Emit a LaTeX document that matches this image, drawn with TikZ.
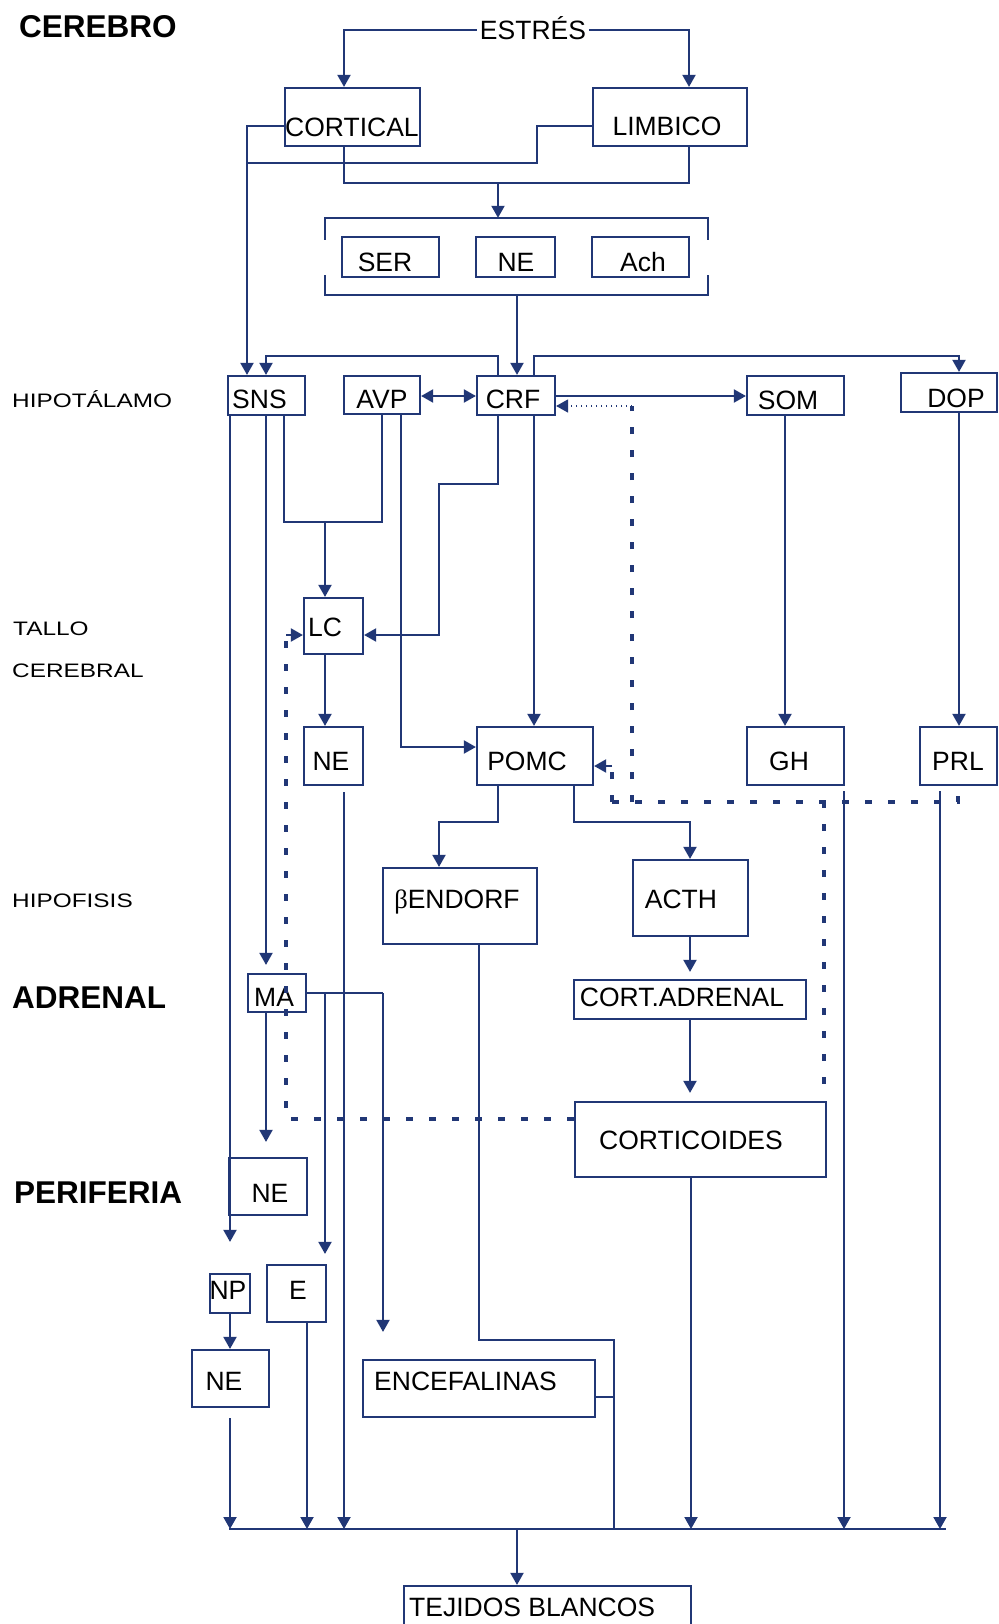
\documentclass[tikz,border=0pt]{standalone}
\usepackage{fontspec}
\setmainfont{Liberation Sans}
\newfontfamily\widefont[FakeStretch=1.25]{Liberation Sans}
\newfontfamily\grfont{Liberation Serif}
\usetikzlibrary{arrows.meta}
\definecolor{navy}{RGB}{33,55,118}
\newcommand\bx[5]{\node[box,minimum width={(#4-#2)*1pt},minimum height={(#5-#3)*1pt}] (#1) at ({(#2+#4)/2},{(#3+#5)/2}) {};}
\begin{document}
\begin{tikzpicture}[x=1pt,y=-1pt,
  ln/.style={draw=navy,line width=2pt},
  arr/.style={ln,-{Triangle[length=12pt,width=13pt]}},
  dblarr/.style={ln,{Triangle[length=12pt,width=13pt]}-{Triangle[length=12pt,width=13pt]}},
  box/.style={draw=navy,line width=2.2pt,rectangle,inner sep=0pt},
  txt/.style={font=\fontsize{26.5}{30}\selectfont,inner sep=0pt,text height=19pt,text depth=0pt},
  lab/.style={font=\widefont\fontsize{19.5}{22}\selectfont,anchor=west,inner sep=0pt,text height=14pt,text depth=0pt},
  blab/.style={font=\bfseries\fontsize{31.5}{34}\selectfont,anchor=west,inner sep=0pt,text height=22.5pt,text depth=0pt},
  dsh/.style={draw=navy,line width=3.5pt,dash pattern=on 7pt off 16pt},
  dotln/.style={draw=navy,line width=1.5pt,dash pattern=on 1.5pt off 3.5pt,-{Triangle[length=12pt,width=13pt]}},
]
\useasboundingbox (0,0) rectangle (998,1624);
\fill[white] (0,0) rectangle (998,1624);
\clip (0,0) rectangle (998,1624);

% left labels
\node[blab] (lcer) at (19,26) {CEREBRO};
\node[lab] (lhip) at (12,400) {HIPOTÁLAMO};
\node[lab] (ltal) at (13,628) {TALLO};
\node[lab] (lcb) at (12,670) {CEREBRAL};
\node[lab] (lhf) at (12,900) {HIPOFISIS};
\node[blab] (ladr) at (12,997) {ADRENAL};
\node[blab] (lper) at (14,1192) {PERIFERIA};

% boxes
\bx{cort}{285}{88}{420}{146}
\bx{limb}{593}{88}{747}{146}
\bx{ser}{342}{237}{439}{277}
\bx{nec}{476}{237}{555}{277}
\bx{ach}{592}{237}{689}{277}
\bx{sns}{228}{376}{305}{415}
\bx{avp}{344}{376}{420}{414}
\bx{crf}{477}{376}{555}{415}
\bx{som}{747}{376}{844}{415}
\bx{dop}{901}{373}{997}{412}
\bx{lc}{304}{598}{363}{654}
\bx{nebs}{304}{727}{363}{785}
\bx{pomc}{477}{727}{593}{785}
\bx{gh}{747}{727}{844}{785}
\bx{prl}{920}{727}{997}{785}
\bx{bend}{383}{868}{537}{944}
\bx{acth}{633}{860}{748}{936}
\bx{ma}{248}{974}{306}{1012}
\bx{cad}{574}{980}{806}{1019}
\bx{corti}{575}{1102}{826}{1177}
\bx{nep}{229}{1158}{307}{1215}
\bx{np}{210}{1274}{250}{1313}
\bx{epi}{267}{1265}{326}{1322}
\bx{neb}{192}{1350}{269}{1407}
\bx{encef}{363}{1360}{595}{1417}
\bx{tej}{404}{1586}{691}{1640}
\node[inner sep=0pt,minimum width=383pt,minimum height=77pt] (brk) at (516.5,256.5) {};
\draw[ln] ([yshift=-22pt]brk.north west) -- (brk.north west) -- (brk.north east) -- ([yshift=-22pt]brk.north east);
\draw[ln] ([yshift=20pt]brk.south west) -- (brk.south west) -- (brk.south east) -- ([yshift=20pt]brk.south east);

% texts
\node[txt,inner xsep=3pt] (estres) at (533,30) {ESTRÉS};
\node[txt,anchor=west] (tcort) at (285,127) {CORTICAL};
\node[txt] (tlimb) at (667,126) {LIMBICO};
\node[txt] (tser) at (385,262) {SER};
\node[txt] (tnec) at (516,262) {NE};
\node[txt] (tach) at (643,262) {Ach};
\node[txt,anchor=west] (tsns) at (232,399) {SNS};
\node[txt] (tavp) at (382,399) {AVP};
\node[txt] (tcrf) at (513,399) {CRF};
\node[txt] (tsom) at (788,400) {SOM};
\node[txt] (tdop) at (956,398) {DOP};
\node[txt,anchor=west] (tlc) at (308,627) {LC};
\node[txt] (tnebs) at (331,761) {NE};
\node[txt] (tpomc) at (527,761) {POMC};
\node[txt] (tgh) at (789,761) {GH};
\node[txt] (tprl) at (958,761) {PRL};
\node[txt] (tbend) at (457,899) {{\grfont β}ENDORF};
\node[txt] (tacth) at (681,899) {ACTH};
\node[txt,anchor=west] (tma) at (254,997) {MA};
\node[txt] (tcad) at (682,997) {CORT.ADRENAL};
\node[txt] (tcorti) at (691,1140) {CORTICOIDES};
\node[txt] (tnep) at (270,1193) {NE};
\node[txt] (tnp) at (228,1290) {NP};
\node[txt] (tepi) at (298,1290) {E};
\node[txt] (tneb) at (224,1381) {NE};
\node[txt,anchor=west] (tencef) at (374,1381) {ENCEFALINAS};
\node[txt,anchor=west] (ttej) at (409,1607) {TEJIDOS BLANCOS};

\coordinate (busL) at (229,1529);
\coordinate (busR) at (946,1529);

% connectors top
\draw[arr] (estres.west) -| (cort.north -| 344,0);
\draw[arr] (estres.east) -| (limb.north -| 689,0);
\draw[arr] (cort.west |- 0,126) -- (247,126) -- (sns.north -| 247,0);
\draw[ln] (limb.west |- 0,126) -- (537,126) -- (537,163) -- (247,163);
\draw[ln] (cort.south -| 344,0) -- (344,183) -- (689,183) -- (limb.south -| 689,0);
\draw[arr] (498,183) -- (brk.north -| 498,0);
\draw[arr] (brk.south -| 517,0) -- (crf.north -| 517,0);
\draw[arr] (crf.north -| 498,0) -- (498,356) -- (266,356) -- (sns.north -| 266,0);
\draw[arr] (crf.north -| 534,0) -- (534,356) -- (959,356) -- (dop.north -| 959,0);
\draw[dblarr] (avp.east |- 0,396) -- (crf.west |- 0,396);
\draw[arr] (crf.east |- 0,396) -- (som.west |- 0,396);

% hypothalamus down
\draw[ln] (sns.south -| 284,0) -- (284,522) -- (382,522) -- (avp.south -| 382,0);
\draw[arr] (325,522) -- (lc.north -| 325,0);
\draw[arr] (avp.south -| 401,0) -- (401,747) -- (pomc.west |- 0,747);
\draw[arr] (crf.south -| 498,0) -- (498,484) -- (439,484) -- (439,635) -- (lc.east |- 0,635);
\draw[arr] (crf.south -| 534,0) -- (pomc.north -| 534,0);
\draw[arr] (som.south -| 785,0) -- (gh.north -| 785,0);
\draw[arr] (dop.south -| 959,0) -- (prl.north -| 959,0);
\draw[arr,shorten >=31pt] (sns.south -| 230,0) -- (np.north);
\draw[arr,shorten >=8pt] (sns.south -| 266,0) -- (ma.north -| 266,0);
\draw[arr] (lc.south -| 325,0) -- (nebs.north -| 325,0);
\draw[arr,shorten <=6pt] (nebs.south -| 344,0) -- (busL -| 344,0);

% pituitary
\draw[arr] (pomc.south -| 498,0) -- (498,822) -- (439,822) -- (bend.north -| 439,0);
\draw[arr] (pomc.south -| 574,0) -- (574,822) -- (690,822) -- (acth.north -| 690,0);
\draw[arr,shorten >=7pt] (acth.south -| 690,0) -- (cad.north -| 690,0);
\draw[arr,shorten >=8pt] (cad.south -| 690,0) -- (corti.north -| 690,0);
\draw[arr] (corti.south -| 691,0) -- (busL -| 691,0);
\draw[arr,shorten <=5pt] (gh.south -| 844,0) -- (busL -| 844,0);
\draw[arr,shorten <=5pt] (prl.south -| 940,0) -- (busL -| 940,0);
\draw[ln] (bend.south -| 479,0) -- (479,1340) -- (614,1340) -- (busL -| 614,0);
\draw[ln] (encef.east |- 0,1397) -- (614,1397);

% adrenal / periphery
\draw[ln] (ma.east |- 0,993) -- (383,993);
\draw[arr,shorten >=27pt] (383,993) -- (encef.north -| 383,0);
\draw[arr,shorten >=10pt] (325,993) -- (epi.north -| 325,0);
\draw[arr,shorten >=15pt] (ma.south -| 266,0) -- (nep.north -| 266,0);
\draw[arr] (np.south) -- (neb.north -| np.south);
\draw[arr,shorten <=10pt] (neb.south -| 230,0) -- (busL -| 230,0);
\draw[arr] (epi.south -| 307,0) -- (busL -| 307,0);
\draw[ln] (busL) -- (busR);
\draw[arr] (busL -| 517,0) -- (tej.north -| 517,0);

% dashed feedback
\draw[dsh] (corti.west |- 0,1119) -- (286,1119) -- (286,635);
\draw[arr] (286,635) -- (lc.west |- 0,635);
\draw[dsh,shorten <=17pt] (corti.north -| 824,0) -- (gh.south -| 824,0);
\draw[dsh] (612,802) -- (958,802) -- (prl.south -| 958,0);
\draw[dsh] (612,802) -- (612,766);
\draw[arr] (612,766) -- (pomc.east |- 0,766);
\draw[dsh] (632,802) -- (632,406);
\draw[dotln] (632,406) -- (crf.east |- 0,406);
\end{tikzpicture}
\end{document}
